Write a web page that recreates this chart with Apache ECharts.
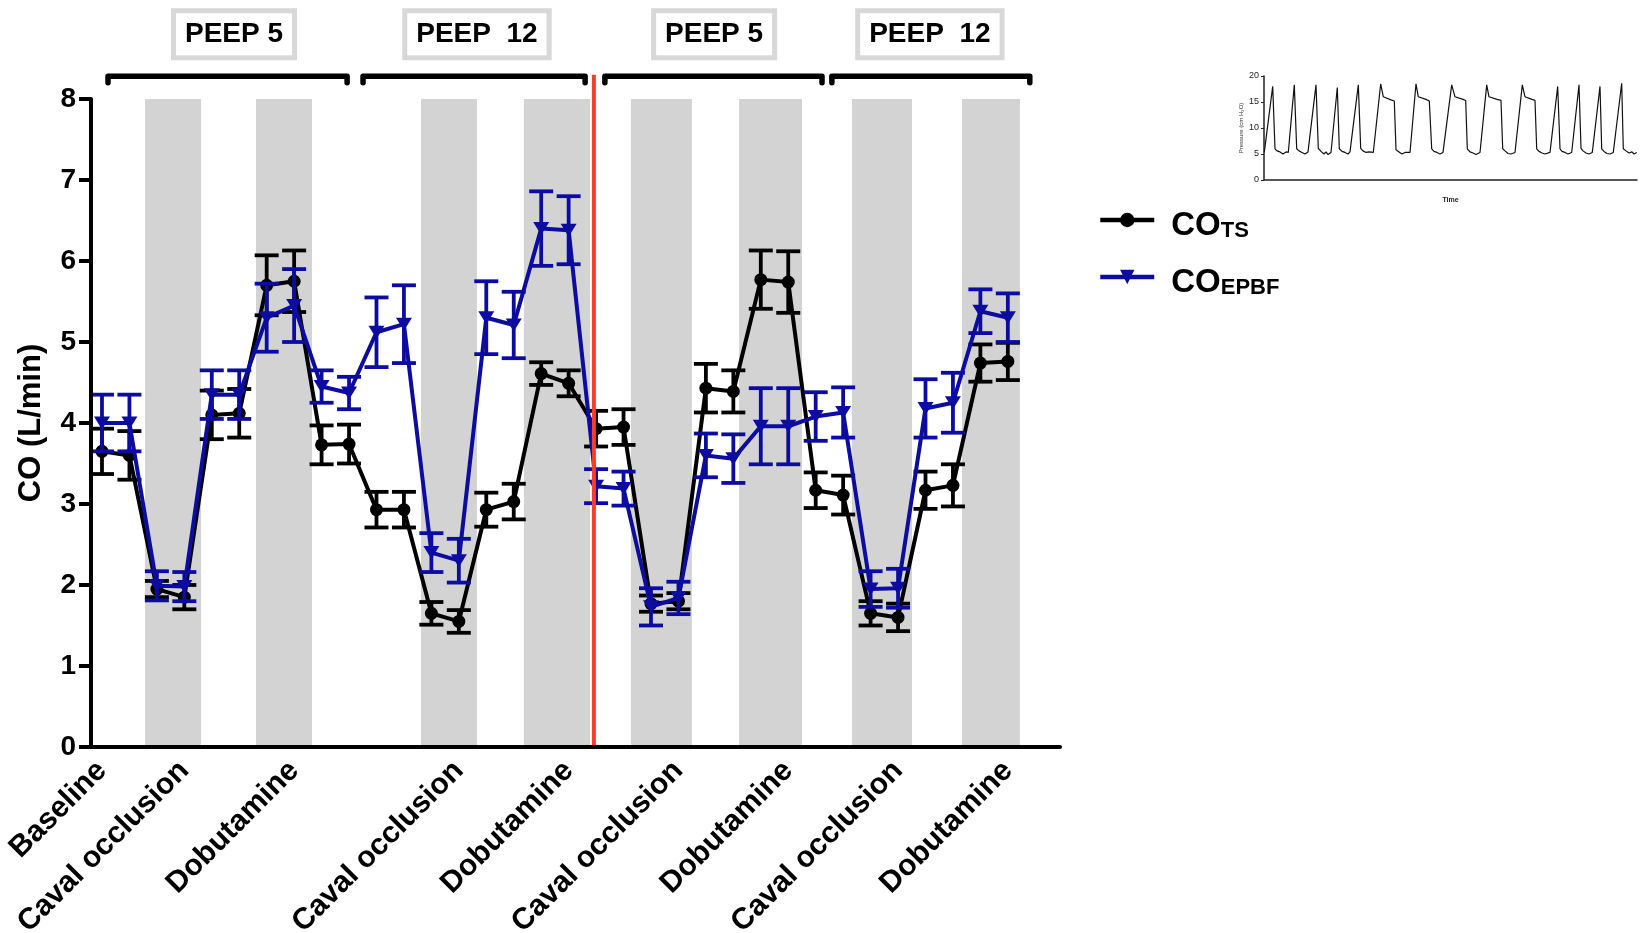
<!DOCTYPE html>
<html><head><meta charset="utf-8">
<script src="https://cdn.jsdelivr.net/npm/echarts@6/dist/echarts.min.js"></script>
<style>html,body{margin:0;padding:0;background:#fff}#c{width:1649px;height:933px}</style>
</head><body><div id="c"></div>
<script>
// ---- data ----
const xIndex = [0,1,2,3,4,5,6,7,8,9,10,11,12,13,14,15,16,17,18,19,20,21,22,23,24,25,26,27,28,29,30,31,32,33];
const coTS     = [3.65,3.60,1.95,1.85,4.10,4.12,5.70,5.75,3.73,3.74,2.93,2.93,1.65,1.55,2.93,3.03,4.61,4.49,3.93,3.95,1.77,1.80,4.43,4.39,5.77,5.74,3.17,3.11,1.65,1.60,3.17,3.23,4.74,4.76];
const coTSerr  = [0.28,0.30,0.10,0.15,0.30,0.30,0.37,0.38,0.24,0.24,0.22,0.22,0.14,0.14,0.21,0.22,0.14,0.16,0.22,0.22,0.10,0.10,0.30,0.26,0.36,0.38,0.22,0.24,0.15,0.17,0.23,0.26,0.23,0.23];
const coEPBF   = [4.00,4.00,1.99,1.98,4.35,4.35,5.30,5.45,4.45,4.37,5.12,5.22,2.40,2.30,5.30,5.21,6.40,6.38,3.22,3.19,1.73,1.84,3.60,3.56,3.96,3.96,4.08,4.13,1.95,1.96,4.18,4.25,5.38,5.30];
const coEPBFerr= [0.35,0.35,0.18,0.18,0.30,0.30,0.42,0.45,0.20,0.20,0.43,0.48,0.24,0.27,0.45,0.41,0.46,0.42,0.21,0.21,0.23,0.20,0.27,0.30,0.47,0.47,0.30,0.31,0.22,0.24,0.36,0.37,0.27,0.30];

const xLabelPos  = [0,3,7,13,17,21,25,29,33];
const xLabelText = ['Baseline','Caval occlusion','Dobutamine','Caval occlusion','Dobutamine','Caval occlusion','Dobutamine','Caval occlusion','Dobutamine'];

const bandStart = [1.57,5.61,11.62,15.37,19.27,23.21,27.32,31.33];
const bandEnd   = [3.61,7.65,13.66,17.78,21.49,25.50,29.51,33.44];
const bandTop   = [8.00,8.00,8.05,8.03,8.00,8.03,8.07,8.03];

const dividerX = 17.92;
const dividerTop = 8.30;

const bracketStart = [0.22,9.51,18.32,26.59];
const bracketEnd   = [8.93,17.60,26.23,33.80];
const bracketY = 8.28, bracketHook = 8.20;
const peepLabels = ['PEEP 5','PEEP  12','PEEP 5','PEEP  12'];
const peepX = [4.81,13.66,22.30,30.16];
const peepY = 8.8;

// inset pressure trace (time in arbitrary units, pressure cm H2O)
const insetTime = [0.3,8.7,11,13,16,19,22,24.3,30.3,32.7,35,38,41,44,46,52,54.3,57,60,62,64,67,73.3,75.3,78,81,84,86,87.7,94.3,96.7,99,102,105,109.3,
 116.7,119.3,121,127,130.3,132,135,138,141,143,146,152,154.3,156,162,165.3,167.7,170,173,176,179,
 187.7,191,193,199,201.7,203.3,206,209,212,216,222.7,225,227,233,237,238.7,241,244,247,251,
 258.3,261,263,268,271,272.7,275,278,281,286,293.7,296,298,301,304,307.7,315,317,319,322,325,328.3,
 336,337.7,340,343,346,349.3,357.7,359.3,362,365,368,370,372.7];
const insetPressure = [5.3,18.0,6.0,5.6,5.4,5.0,5.4,5.3,18.3,6.0,5.6,5.3,5.0,5.4,5.3,18.3,6.1,5.5,5.0,5.4,4.9,5.3,17.8,6.0,5.5,5.3,5.0,5.4,5.3,18.3,6.1,5.6,5.3,5.4,5.3,
 18.5,16.0,15.7,15.4,15.2,5.8,5.4,5.0,5.3,5.0,5.3,18.5,16.0,15.7,15.5,15.2,6.0,5.5,5.3,5.0,5.3,
 18.3,16.0,15.8,15.5,15.3,6.0,5.4,5.2,4.9,5.3,18.3,16.0,15.8,15.5,15.3,6.0,5.6,5.1,5.0,5.3,
 18.3,16.0,15.8,15.5,15.3,6.0,5.5,5.2,5.0,5.3,18.0,6.0,5.5,5.3,5.0,5.3,18.3,6.1,5.6,5.2,5.0,5.3,
 18.0,6.0,5.5,5.1,5.0,5.3,18.6,6.0,5.6,5.2,5.4,5.0,5.3];
const insetYTicks = [0,5,10,15,20];

// ---- styling ----
const FONT = 'Liberation Sans, Arial, Helvetica, sans-serif';
const BLACK = '#000000', BLUE = '#0c0ca0', RED = '#f3402e', BAND = '#d3d3d3';

function errRender(color) {
  return function (params, api) {
    const x = api.value(0), lo = api.value(1), hi = api.value(2);
    const pLo = api.coord([x, lo]), pHi = api.coord([x, hi]);
    const w = 12;
    const st = { stroke: color, lineWidth: 3.8 };
    return { type: 'group', children: [
      { type: 'line', shape: { x1: pLo[0], y1: pLo[1], x2: pHi[0], y2: pHi[1] }, style: st },
      { type: 'line', shape: { x1: pLo[0] - w, y1: pLo[1], x2: pLo[0] + w, y2: pLo[1] }, style: st },
      { type: 'line', shape: { x1: pHi[0] - w, y1: pHi[1], x2: pHi[0] + w, y2: pHi[1] }, style: st }
    ]};
  };
}

const errTS = xIndex.map((x, i) => [x, coTS[i] - coTSerr[i], coTS[i] + coTSerr[i]]);
const errEP = xIndex.map((x, i) => [x, coEPBF[i] - coEPBFerr[i], coEPBF[i] + coEPBFerr[i]]);

const bracketSeries = bracketStart.map((s, i) => ({
  type: 'line', xAxisIndex: 0, yAxisIndex: 0, clip: false, silent: true, symbol: 'none', z: 5,
  lineStyle: { color: BLACK, width: 5.5, join: 'round', cap: 'round' },
  data: [[s, bracketHook], [s, bracketY], [bracketEnd[i], bracketY], [bracketEnd[i], bracketHook]]
}));

const chart = echarts.init(document.getElementById('c'), null, { renderer: 'canvas' });
chart.setOption({
  backgroundColor: '#ffffff',
  animation: false,
  textStyle: { fontFamily: FONT },
  grid: [
    { left: 91, top: 99, width: 969, height: 648, containLabel: false, outerBoundsMode: 'none' },
    { left: 1264, top: 76, width: 373, height: 104, containLabel: false, outerBoundsMode: 'none' }
  ],
  legend: {
    orient: 'vertical', left: 1093, top: 204, itemWidth: 54, itemHeight: 18, itemGap: 24,
    data: ['COTS', 'COEPBF'],
    lineStyle: { width: 4.5 },
    formatter: n => n === 'COTS' ? '{a|CO}{b|TS}' : '{a|CO}{b|EPBF}',
    textStyle: { color: BLACK, rich: {
      a: { fontSize: 33, fontWeight: 'bold', fontFamily: FONT, color: BLACK, lineHeight: 44, verticalAlign: 'bottom', padding: [0, 0, 0, 12] },
      b: { fontSize: 22, fontWeight: 'bold', fontFamily: FONT, color: BLACK, lineHeight: 14, verticalAlign: 'bottom' }
    }}
  },
  xAxis: [
    { type: 'value', gridIndex: 0, min: -0.4, max: 34.9, z: 10,
      axisLine: { onZero: false, lineStyle: { color: BLACK, width: 4 } },
      axisTick: { show: false },
      splitLine: { show: false },
      axisLabel: { customValues: xLabelPos, rotate: 45, margin: 19, fontSize: 30, fontWeight: 'bold', color: BLACK, fontFamily: FONT,
        padding: [12, 0, 0, 0],
        formatter: v => { const k = xLabelPos.indexOf(v); return k >= 0 ? xLabelText[k] : ''; } } },
    { type: 'value', gridIndex: 1, min: 0, max: 373, name: 'Time', nameLocation: 'middle', nameGap: 17,
      nameTextStyle: { fontSize: 7, fontWeight: 'bold', color: '#222', fontFamily: FONT },
      axisLine: { onZero: false, lineStyle: { color: '#222', width: 1.5 } },
      axisTick: { show: false }, axisLabel: { show: false }, splitLine: { show: false } }
  ],
  yAxis: [
    { type: 'value', gridIndex: 0, min: 0, max: 8, interval: 1, z: 10,
      name: 'CO (L/min)', nameLocation: 'middle', nameGap: 44,
      nameTextStyle: { fontSize: 31, fontWeight: 'bold', color: BLACK, fontFamily: FONT },
      axisLine: { show: true, onZero: false, lineStyle: { color: BLACK, width: 4 } },
      axisTick: { show: true, length: 12, lineStyle: { color: BLACK, width: 4 } },
      axisLabel: { fontSize: 28, fontWeight: 'bold', color: BLACK, margin: 15, fontFamily: FONT },
      splitLine: { show: false } },
    { type: 'value', gridIndex: 1, min: 0, max: 20, interval: 5,
      name: 'Pressure (cm H\u2082O)', nameLocation: 'middle', nameGap: 20,
      nameTextStyle: { fontSize: 6, color: '#333', fontFamily: FONT },
      axisLine: { show: true, onZero: false, lineStyle: { color: '#222', width: 1.5 } },
      axisTick: { show: true, length: 3, lineStyle: { color: '#222', width: 1 } },
      axisLabel: { fontSize: 9, color: '#222', margin: 5, fontFamily: FONT, customValues: insetYTicks },
      splitLine: { show: false } }
  ],
  series: [
    { type: 'line', name: 'bands', xAxisIndex: 0, yAxisIndex: 0, data: [], silent: true, clip: false,
      markArea: { silent: true, itemStyle: { color: BAND }, z: 1,
        data: bandStart.map((s, i) => [{ coord: [s, 0] }, { coord: [bandEnd[i], bandTop[i]] }]) } },
    { type: 'custom', name: 'errTS', xAxisIndex: 0, yAxisIndex: 0, renderItem: errRender(BLACK), data: errTS,
      encode: { x: 0, y: [1, 2] }, z: 3, silent: true },
    { type: 'line', name: 'COTS', xAxisIndex: 0, yAxisIndex: 0, data: xIndex.map((x, i) => [x, coTS[i]]),
      symbol: 'circle', symbolSize: 13, color: BLACK, lineStyle: { color: BLACK, width: 4 },
      itemStyle: { color: BLACK }, z: 4 },
    { type: 'custom', name: 'errEP', xAxisIndex: 0, yAxisIndex: 0, renderItem: errRender(BLUE), data: errEP,
      encode: { x: 0, y: [1, 2] }, z: 5, silent: true },
    { type: 'line', name: 'COEPBF', xAxisIndex: 0, yAxisIndex: 0, data: xIndex.map((x, i) => [x, coEPBF[i]]),
      symbol: 'triangle', symbolRotate: 180, symbolSize: [16, 13], color: BLUE, lineStyle: { color: BLUE, width: 4 },
      itemStyle: { color: BLUE }, z: 6 },
    { type: 'line', name: 'divider', xAxisIndex: 0, yAxisIndex: 0, clip: false, silent: true, symbol: 'none', z: 8,
      lineStyle: { color: RED, width: 4 }, data: [[dividerX, 0], [dividerX, dividerTop]] },
    ...bracketSeries,
    { type: 'scatter', name: 'peep', xAxisIndex: 0, yAxisIndex: 0, clip: false, silent: true, symbolSize: 1, z: 9,
      itemStyle: { color: 'rgba(0,0,0,0)' },
      data: peepX.map((x, i) => [x, peepY, peepLabels[i]]),
      label: { show: true, position: 'inside', formatter: p => p.data[2], fontSize: 28, fontWeight: 'bold', color: '#000000', fontFamily: FONT,
        textBorderWidth: 0, opacity: 1,
        borderColor: '#d8d8d8', borderWidth: 5, padding: [8, 9, 6, 9], backgroundColor: '#ffffff' } },
    { type: 'line', name: 'pressure', xAxisIndex: 1, yAxisIndex: 1, symbol: 'none', silent: true,
      lineStyle: { color: '#111111', width: 1.2 }, data: insetTime.map((t, i) => [t, insetPressure[i]]) }
  ]
});
</script></body></html>
